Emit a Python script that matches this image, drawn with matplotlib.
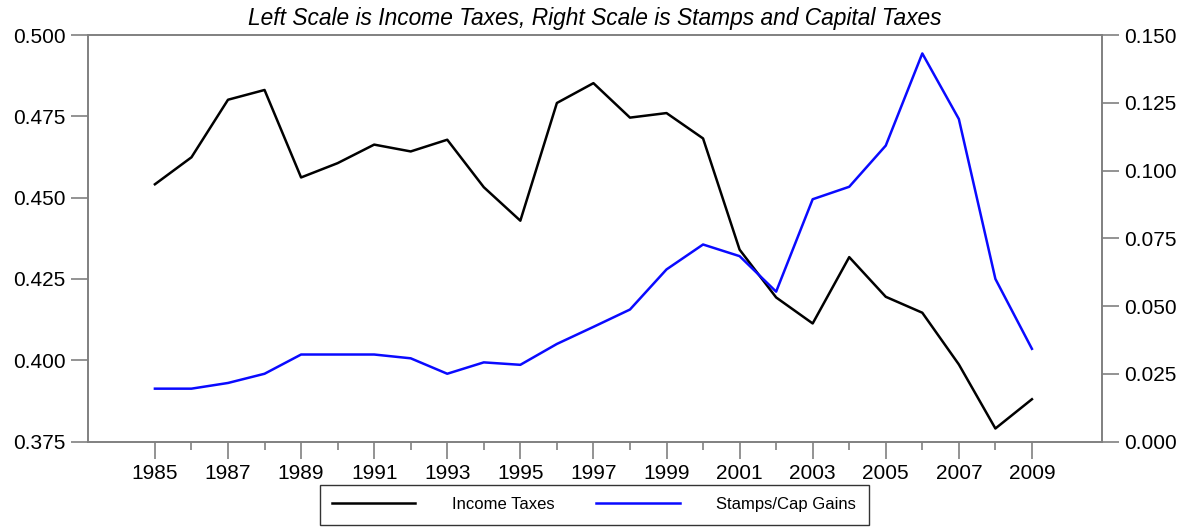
import numpy as np
import matplotlib.pyplot as plt
from matplotlib.ticker import MultipleLocator, FormatStrFormatter

plt.rcParams['font.family'] = ['Liberation Sans', 'DejaVu Sans']

years = list(range(1985, 2010))
income_taxes = [0.4541, 0.4624, 0.4801, 0.4831, 0.4562, 0.4606, 0.4663, 0.4642, 0.4678,
                0.4532, 0.4429, 0.4791, 0.4852, 0.4746, 0.4760, 0.4682, 0.4340, 0.4193,
                0.4113, 0.4317, 0.4195, 0.4146, 0.3987, 0.3790, 0.3880]
stamps_cap_gains = [0.0195, 0.0195, 0.0216, 0.0250, 0.0321, 0.0321, 0.0321, 0.0307, 0.0250,
                    0.0292, 0.0283, 0.0360, 0.0423, 0.0487, 0.0635, 0.0727, 0.0684, 0.0553,
                    0.0894, 0.0940, 0.1092, 0.1432, 0.1190, 0.0600, 0.0342]

grey = '#808080'

fig = plt.figure(figsize=(11.93, 5.29), dpi=100)
ax = fig.add_axes([0.0738, 0.1654, 0.85, 0.7684])
ax2 = ax.twinx()

l1, = ax.plot(years, income_taxes, color='black', lw=1.8, label='Income Taxes')
l2, = ax2.plot(years, stamps_cap_gains, color='#0a0aff', lw=1.8, label='Stamps/Cap Gains')

ax.set_xlim(1983.17, 2010.92)
ax.set_ylim(0.375, 0.500)
ax2.set_ylim(0.0, 0.150)

ax.set_xticks(range(1985, 2010, 2))
ax.set_xticks(range(1986, 2010, 2), minor=True)
ax.yaxis.set_major_locator(MultipleLocator(0.025))
ax.yaxis.set_major_formatter(FormatStrFormatter('%.3f'))
ax2.yaxis.set_major_locator(MultipleLocator(0.025))
ax2.yaxis.set_major_formatter(FormatStrFormatter('%.3f'))

for a in (ax, ax2):
    for s in a.spines.values():
        s.set_color(grey)
        s.set_linewidth(1.2)
    a.tick_params(axis='both', which='major', length=12, width=1.2, color=grey,
                  labelsize=15, pad=4)
    a.tick_params(axis='x', which='minor', length=6, width=1.2, color=grey)

ax.set_title('Left Scale is Income Taxes, Right Scale is Stamps and Capital Taxes',
             fontstyle='italic', fontsize=16.4, pad=7)

leg = fig.legend(handles=[l1, l2], loc='lower center', bbox_to_anchor=(0.498, 0.008),
                 ncol=2, frameon=True, fancybox=False, fontsize=12, borderaxespad=0,
                 handlelength=5, columnspacing=2.5, borderpad=0.75, handletextpad=2.2)
leg.get_frame().set_edgecolor('black')
leg.get_frame().set_linewidth(1.0)

fig.savefig('out.png', dpi=100)
